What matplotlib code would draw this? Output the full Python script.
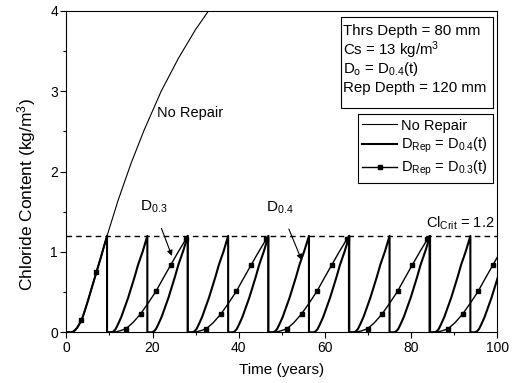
import numpy as np
import matplotlib.pyplot as plt
from matplotlib.patches import Rectangle

plt.rcParams['font.family'] = ['Liberation Sans', 'DejaVu Sans']
plt.rcParams['mathtext.fontset'] = 'custom'
plt.rcParams['mathtext.rm'] = 'Liberation Sans'
plt.rcParams['mathtext.it'] = 'Liberation Sans:italic'

# no repair curve (years, kg/m3)
t_norep = [0, 0.5, 1, 1.5, 2, 2.5, 3, 3.5, 4, 5, 6, 7, 8, 9.45, 12, 15, 18, 22, 26, 30, 33.5]
c_norep = [0, 0, 0.0, 0.006, 0.025, 0.055, 0.10, 0.15, 0.22, 0.39, 0.57, 0.75, 0.93, 1.2,
           1.64, 2.10, 2.51, 3.0, 3.41, 3.77, 4.04]
norep_marks = [7, 11]  # markers on the shared first part (t = 3.5, 7)

# one cycle after a repair, time since repair
rel_d04 = [0, 1.0, 1.5, 2.0, 2.55, 3.3, 4.1, 4.9, 5.66, 6.4, 7.2, 8.3, 9.35]
c_d04 = [0, 0, 0.01, 0.04, 0.10, 0.19, 0.31, 0.43, 0.56, 0.69, 0.84, 1.01, 1.2]
rep_d04 = [9.45, 18.8, 28.2, 37.55, 46.9, 56.3, 65.65, 75.0, 84.4, 93.75]

rel_d03 = [0, 1.0, 2.0, 3.0, 4.4, 6.0, 7.8, 9.5, 11.35, 13.0, 14.8, 16.5, 18.3, 18.65]
c_d03 = [0, 0.0, 0.005, 0.018, 0.045, 0.12, 0.23, 0.36, 0.51, 0.67, 0.84, 1.0, 1.16, 1.2]
d03_marks = [4, 6, 8, 10, 12]
rep_d03 = [9.45, 28.1, 46.8, 65.5, 84.2]

cl_crit = 1.2


def build(rel, cc, reps, marks):
    n0 = t_norep.index(reps[0]) + 1
    t = list(t_norep[:n0])
    c = list(c_norep[:n0])
    idx = list(norep_marks)
    for i, tr in enumerate(reps):
        start = len(t)
        last = i == len(reps) - 1
        stop = len(rel) if last else len(rel) - 1
        for j in range(stop):
            t.append(tr + rel[j])
            c.append(cc[j])
        idx += [start + m for m in marks if m < stop]
        if not last:
            t.append(reps[i + 1])
            c.append(cl_crit)
    return t, c, idx


t4, c4, _ = build(rel_d04, c_d04, rep_d04, [])
t3, c3, m3 = build(rel_d03, c_d03, rep_d03, d03_marks)

fig = plt.figure(figsize=(5.12, 3.83), dpi=100)
ax = fig.add_axes([0.1295, 0.1324, 0.8418, 0.8389])

ax.plot(t_norep, c_norep, color='black', lw=0.8, label='No Repair')
ax.plot(t4, c4, color='black', lw=1.5, label=r'$\mathrm{D_{Rep}}$ = $\mathrm{D_{0.4}}$(t)')
ax.plot(t3, c3, color='black', lw=1.0, marker='s', ms=2.6, markevery=m3,
        label=r'$\mathrm{D_{Rep}}$ = $\mathrm{D_{0.3}}$(t)')
ax.axhline(cl_crit, color='black', lw=1.0, ls=(0, (4, 3)))

ax.set_xlim(0, 100)
ax.set_ylim(0, 4)
ax.set_xticks([0, 20, 40, 60, 80, 100])
ax.set_xticks(np.arange(10, 100, 20), minor=True)
ax.set_yticks([0, 1, 2, 3, 4])
ax.set_yticks([0.5, 1.5, 2.5, 3.5], minor=True)
ax.tick_params(which='major', length=4, width=0.8, labelsize=10, pad=2)
ax.tick_params(which='minor', length=2.5, width=0.8)
for s in ax.spines.values():
    s.set_linewidth(0.8)
ax.set_xlabel('Time (years)', fontsize=11, labelpad=6)
ax.set_ylabel(r'Chloride Content (kg/m$^3$)', fontsize=12.5, labelpad=9, y=0.43)

ax.text(21.0, 2.73, 'No Repair', fontsize=10.5, va='center')
ax.annotate(r'$\mathrm{D_{0.3}}$', xy=(24.5, 0.95), xytext=(17.0, 1.56), fontsize=11,
            va='center', arrowprops=dict(arrowstyle='-|>', color='black', lw=0.8,
                                         shrinkA=8, shrinkB=0, mutation_scale=8))
ax.annotate(r'$\mathrm{D_{0.4}}$', xy=(54.6, 0.90), xytext=(46.4, 1.55), fontsize=11,
            va='center', arrowprops=dict(arrowstyle='-|>', color='black', lw=0.8,
                                         shrinkA=8, shrinkB=0, mutation_scale=8))
ax.text(83.5, 1.36, r'$\mathrm{Cl_{Crit}}$ = 1.2', fontsize=10.5, va='center')

# parameter box
ax.add_patch(Rectangle((0.637, 0.697), 0.352, 0.283, transform=ax.transAxes,
                       fill=False, edgecolor='black', lw=0.8))
box_lines = ['Thrs Depth = 80 mm', r'Cs = 13 kg/m$^3$',
             r'D$_\mathrm{o}$ = D$_\mathrm{0.4}$(t)', 'Rep Depth = 120 mm']
for k, s in enumerate(box_lines):
    ax.text(0.643, 0.937 - k * 0.059, s, transform=ax.transAxes, fontsize=10.8, va='center')

leg = ax.legend(loc='upper right', bbox_to_anchor=(0.989, 0.679), fontsize=10.5,
                fancybox=False, edgecolor='black', framealpha=1, numpoints=1,
                handlelength=2.4, handletextpad=0.3, borderpad=0.3, labelspacing=0.25,
                borderaxespad=0)
leg.get_frame().set_linewidth(0.8)

fig.savefig('out.png', dpi=100)
